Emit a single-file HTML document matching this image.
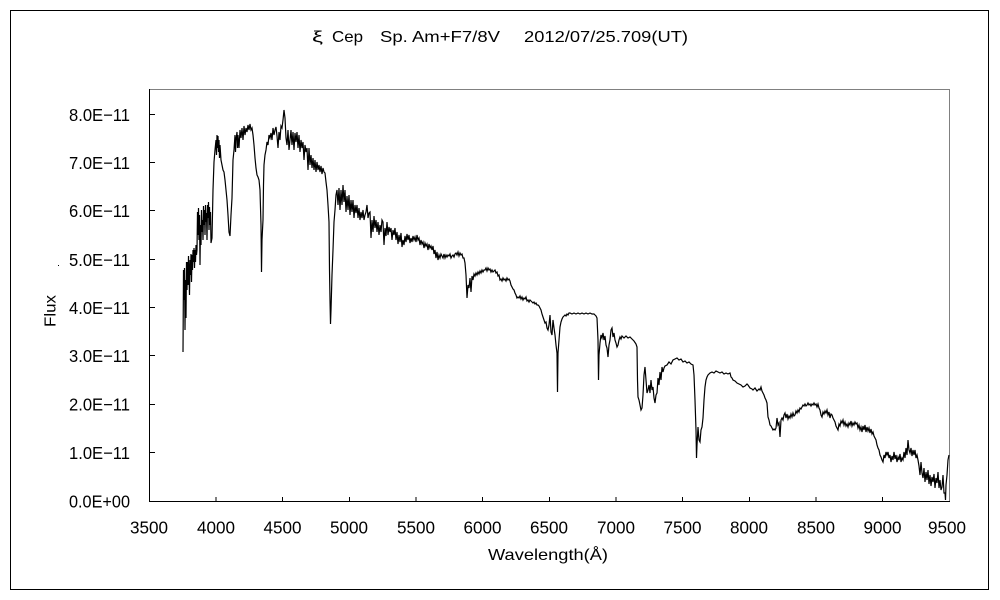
<!DOCTYPE html>
<html>
<head>
<meta charset="utf-8">
<style>
html,body{margin:0;padding:0;background:#fff;}
svg{display:block;}
text{font-family:"Liberation Sans","Noto Sans CJK JP",sans-serif;fill:#000;}
</style>
</head>
<body>
<svg width="1000" height="600" viewBox="0 0 1000 600" xmlns="http://www.w3.org/2000/svg">
<rect x="0" y="0" width="1000" height="600" fill="#fff"/>
<!-- outer frame -->
<rect x="10.5" y="10.5" width="978" height="579" fill="none" stroke="#000" stroke-width="1"/>

<!-- title -->
<text x="312" y="42" font-size="16" textLength="11" lengthAdjust="spacingAndGlyphs">ξ</text>
<text x="332" y="42" font-size="16" textLength="31" lengthAdjust="spacingAndGlyphs">Cep</text>
<text x="380" y="42" font-size="16" textLength="120" lengthAdjust="spacingAndGlyphs">Sp. Am+F7/8V</text>
<text x="524" y="42" font-size="16" textLength="164" lengthAdjust="spacingAndGlyphs">2012/07/25.709(UT)</text>

<!-- plot frame -->
<line x1="149" y1="89.5" x2="950" y2="89.5" stroke="#808080" stroke-width="1"/>
<line x1="949.5" y1="89" x2="949.5" y2="502" stroke="#808080" stroke-width="1"/>
<line x1="149.5" y1="89" x2="149.5" y2="502" stroke="#000" stroke-width="1"/>
<line x1="149" y1="501.5" x2="950" y2="501.5" stroke="#000" stroke-width="1"/>

<!-- y ticks -->
<g stroke="#000" stroke-width="1">
<line x1="149" y1="452.5" x2="155" y2="452.5"/>
<line x1="149" y1="404.5" x2="155" y2="404.5"/>
<line x1="149" y1="355.5" x2="155" y2="355.5"/>
<line x1="149" y1="307.5" x2="155" y2="307.5"/>
<line x1="149" y1="259.5" x2="155" y2="259.5"/>
<line x1="149" y1="210.5" x2="155" y2="210.5"/>
<line x1="149" y1="162.5" x2="155" y2="162.5"/>
<line x1="149" y1="114.5" x2="155" y2="114.5"/>
</g>
<!-- x ticks -->
<g stroke="#000" stroke-width="1">
<line x1="216" y1="497" x2="216" y2="501"/>
<line x1="282.5" y1="497" x2="282.5" y2="501"/>
<line x1="349.5" y1="497" x2="349.5" y2="501"/>
<line x1="416" y1="497" x2="416" y2="501"/>
<line x1="482.5" y1="497" x2="482.5" y2="501"/>
<line x1="549.5" y1="497" x2="549.5" y2="501"/>
<line x1="616" y1="497" x2="616" y2="501"/>
<line x1="682.5" y1="497" x2="682.5" y2="501"/>
<line x1="749.5" y1="497" x2="749.5" y2="501"/>
<line x1="816" y1="497" x2="816" y2="501"/>
<line x1="882.5" y1="497" x2="882.5" y2="501"/>
</g>

<!-- y labels -->
<g font-size="17.5" text-anchor="end">
<text x="130" y="507.5" textLength="61" lengthAdjust="spacingAndGlyphs">0.0E+00</text>
<text x="130" y="459" textLength="61" lengthAdjust="spacingAndGlyphs">1.0E−11</text>
<text x="130" y="410.5" textLength="61" lengthAdjust="spacingAndGlyphs">2.0E−11</text>
<text x="130" y="362" textLength="61" lengthAdjust="spacingAndGlyphs">3.0E−11</text>
<text x="130" y="314" textLength="61" lengthAdjust="spacingAndGlyphs">4.0E−11</text>
<text x="130" y="266" textLength="61" lengthAdjust="spacingAndGlyphs">5.0E−11</text>
<text x="130" y="217" textLength="61" lengthAdjust="spacingAndGlyphs">6.0E−11</text>
<text x="130" y="169" textLength="61" lengthAdjust="spacingAndGlyphs">7.0E−11</text>
<text x="130" y="121" textLength="61" lengthAdjust="spacingAndGlyphs">8.0E−11</text>
</g>

<!-- x labels -->
<g font-size="17.5" text-anchor="middle">
<text x="149" y="533.5" textLength="38" lengthAdjust="spacingAndGlyphs">3500</text>
<text x="216" y="533.5" textLength="38" lengthAdjust="spacingAndGlyphs">4000</text>
<text x="282.5" y="533.5" textLength="38" lengthAdjust="spacingAndGlyphs">4500</text>
<text x="349" y="533.5" textLength="38" lengthAdjust="spacingAndGlyphs">5000</text>
<text x="416" y="533.5" textLength="38" lengthAdjust="spacingAndGlyphs">5500</text>
<text x="482.5" y="533.5" textLength="38" lengthAdjust="spacingAndGlyphs">6000</text>
<text x="549" y="533.5" textLength="38" lengthAdjust="spacingAndGlyphs">6500</text>
<text x="616" y="533.5" textLength="38" lengthAdjust="spacingAndGlyphs">7000</text>
<text x="682.5" y="533.5" textLength="38" lengthAdjust="spacingAndGlyphs">7500</text>
<text x="749" y="533.5" textLength="38" lengthAdjust="spacingAndGlyphs">8000</text>
<text x="816" y="533.5" textLength="38" lengthAdjust="spacingAndGlyphs">8500</text>
<text x="882.5" y="533.5" textLength="38" lengthAdjust="spacingAndGlyphs">9000</text>
<text x="947" y="533.5" textLength="38" lengthAdjust="spacingAndGlyphs">9500</text>
</g>

<!-- axis titles -->
<text x="488" y="560" font-size="16" textLength="120" lengthAdjust="spacingAndGlyphs">Wavelength(Å)</text>
<text x="0" y="0" font-size="16" text-anchor="middle" textLength="32" lengthAdjust="spacingAndGlyphs" transform="translate(55.5,311) rotate(-90)">Flux</text>
<rect x="58" y="265" width="1" height="1" fill="#000"/>

<!-- spectrum -->
<polyline fill="none" stroke="#000" stroke-width="1.2" stroke-linejoin="miter" points="
183,352 183.5,270 184,300 184.5,268 185,330 185.5,280 186,318 186.5,262 187,290 187.5,262 188,285 188.5,256 189,275 189.5,295 190,260 190.5,275 191,254 191.5,282 192,255 192.5,270 193,250 193.5,262 194,248 194.5,268 195,250 195.5,262 196,245 196.5,255 197,250
197.5,212 198,235 198.5,208 199,240 199.5,215 200,265 200.5,225 201,245 201.5,210 202,232 202.5,220 203,240 203.5,206 204,225 204.5,210 205,235 205.5,205 206,222 206.5,213 207,240 207.5,205 208,218 208.5,202 209,230 209.5,207 210,225 210.5,212 211,243 212,238
213,190 214,162 215,150 216,140 216.5,155 217,135 217.5,148 218,136 218.5,152 219,140 219.5,158 220,145 221,160 222,165 223,170 224,172 225,180 226,190 227,200 228,215 229,232 230,236 231,215 232,198 233,160 234,150 235,135 235.5,152 236,140 237,132 237.5,148 238,135 239,148 240,130 241,138 242,128 243,140 244,126 245,135 246,128 247,132 248,125 249,130 250,124 251,130 252,128 253,135 254,145 255,158 256,168 257,175 258,177 259,180 260,190 261,225 261.5,272 262,240 263,220 263.5,185 264,165 265,155 266,150 267,142 268,145 269,135 270,138 271,133 272,140 273,128 274,135 275,130 276,127 277,136 278,148 279,132 280,140 281,126 282,128 283,120 284,110 285,118 286,138 287,145 288,130 289,150 290,140 291,130 292,145 293,132 294,150 295,133 296,142 297,132 298,148 299,135 300,152 301,140 302,148 303,142 304,160 305,145 306,152 307,148 308,170 309,148 310,165 311,155 312,168 313,158 314,170 315,160 316,172 317,162 318,170 319,165 320,172 321,166 322,174 323,168 324,172 325,173 326,182 327,190 328,205 329,222 329.5,270 330,300 330.5,324 331,310 332,275 333,250 334,222 335,210 336,195 337,190 338,205 339,188 340,210 341,190 342,205 343,185 344,202 345,190 346,212 347,196 348,210 349,195 350,215 351,200 352,212 353,200 354,218 355,205 356,213 357,205 358,218 359,208 360,220 361,212 362,218 363,210 364,220 365,215 366,212 367,205 368,218 369,213 370,212 371,238 372,220 373,232 374,216 375,228 376,220 377,232 378,222 379,235 380,225 381,232 382,220 383,222 384,245 385,228 386,236 387,222 388,235 389,227 390,232 391,228 392,240 393,230 394,235 395,228 396,240 397,232 398,244 399,235 400,242 401,233 402,247 403,240 404,245 405,236 406,242 407,234 408,240 409,235 410,243 411,238 412,242 413,236 414,240 415,237 416,242 417,235 418,240 419,238 420,245 421,240 422,244 423,242 424,248 425,243 426,246 427,244 428,250 429,244 430,248 431,246 432,250 433,246 434,254 435,250 436,258 437,252 438,260 439,255 440,258 441,254 442,256 443,258 444,254 445,258 446,255 447,257 448,255 449,256 450,254 451,258 452,256 453,255 454,257 455,254 456,253 457,255 458,252 459,256 460,253 461,255 462,254 463,258 464,258 465,263 466,275 467,298 468,285 469,288 470,278 471,292 472,276 473,280 474,274 475,276 476,273 477,275 478,272 479,274 480,271 481,273 482,270 483,272 484,270 485,270 486,268 487,271 488,268 489,270 490,269 491,272 492,270 493,272 494,271 495,270 496,273 497,272 498,276 499,275 500,280 501,279 502,281 503,278 504,280 505,279 506,281 507,278 508,280 509,279 510,281 511,285 512,287 513,289 514,290 515,293 516,295 517,298 518,297 519,298 520,296 521,299 522,297 523,300 524,298 525,299 526,297 527,301 528,300 529,302 530,300
531,301 532,302 533,303 534,302 535,304 536,303 537,305 538,305 539,306 540,308 541,310 542,314 543,317 544,320 545,323 546,322 547,328 548,330 549,325 550,315 551,332 552,335 553,320 554,328 555,335 556,345 557,353 557.5,392 558,353 559,340 560,327 561,322 562,319 563,317 564,316 565,315 566,316 567,314 568,315 569,313 570,313 572,314 574,313 576,314 578,313 580,314 582,313 584,314 586,313 588,314 590,313 592,314 594,314 595,315 596,316 597,318 598,340 598.5,380 599,355 600,343 601,335 602,338 603,333 604,340 605,336 606,345 607,348 608,357 609,345 610,340 611,330 612,328 613,337 614,333 615,340 616,343 617,347 618,345 619,340 620,337 621,339 622,336 624,338 626,336 628,338 630,337 632,339 634,341 636,344 637,347 637.5,380 638,397 639,400 640,405 641,410 642,408 643,395 644,375 645,367 646,380 647,393 648,390 649,385 650,393 651,380 652,390 653,387 654,398 655,403 656,395 657,393 658,378 659,385 660,372 661,380 662,367 663,372 664,368 665,366 667,365 669,362 671,364 673,360 675,359 677,358 679,360 681,359 683,362 685,361 687,363 689,362 691,364 693,365 694,375 695,400 696,430 696.5,458 697,445 698,427 699,440 700,442 701,430 702,427 703,418 704,400 705,387 706,380 707,377 708,375 710,373 712,372 714,373 716,371 718,372 720,373 722,372 724,374 726,373 728,374 730,373 731,377 732,378 733,380 735,381 737,383 739,384 741,385 743,387 745,386 747,384 748,385 750,388 752,389 753,390 755,388 757,391 759,389 760,390 761,387 762,391 763,393 764,395 765,398 766,400 767,403 768,417 769,420 770,425 771,426 772,428 773,430 774,429 775,430 776,428 777,418 778,425 779,423 780,437 781,420 782,418 783,420 784,415 785,413 786,418 787,414 788,419 789,416 790,418 791,414 792,417 793,413 794,416 795,415 796,411 797,413 798,410 799,412 800,408 801,409 802,407 803,405 804,406 805,404 806,406 807,405 808,403 809,405 810,404 811,406 812,404 813,405 814,403 815,405 816,404 817,407 818,404 819,408 820,410 821,415 822,417 823,412 824,414 825,411 826,413 827,410 828,415 829,412 830,418 831,414 832,415 833,418 834,420 835,422 836,426 837,428 838,430 839,424 840,426 841,421 842,423 843,420 844,425 845,422 846,426 847,424 848,427 849,423 850,425 851,421 852,426 853,423 854,425 855,422 856,424 857,423 858,428 859,425 860,430 861,427 862,432 863,426 864,430 865,425 866,432 867,427 868,431 869,428 870,433 871,429 872,434 873,432 874,436 875,438 876,440 877,445 878,448 879,450 880,455 881,457 882,460 883,462 884,455 885,458 886,452 887,455 888,452 889,458 890,455 891,462 892,456 893,460 894,452 895,459 896,455 897,462 898,457 899,460 900,454 901,462 902,458 903,460 904,452 905,458 906,448 907,455 908,440 909,450 910,453 911,448 912,456 913,450 914,455 915,450 916,458 917,455 918,460 919,466 920,475 921,462 922,473 923,478 924,468 925,482 926,472 927,480 928,470 929,484 930,475 931,486 932,477 933,482 934,474 935,488 936,478 937,483 938,472 939,488 940,480 941,490 942,487 943,475 944,493 945,493 945.5,500 946,485 947,475 948,460 949,455
"/>
</svg>
</body>
</html>
